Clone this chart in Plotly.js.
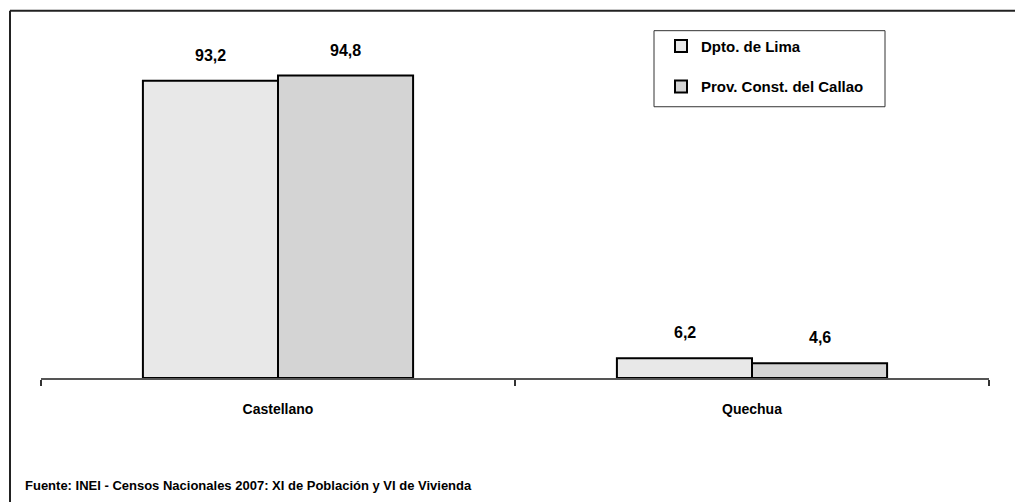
<!DOCTYPE html>
<html><head><meta charset="utf-8">
<script src="https://cdn.plot.ly/plotly-3.0.1.min.js"></script>
<style>body{margin:0;background:#fff}#c{width:1015px;height:502px}</style>
</head><body><div id="c"></div>
<script>
const categories = ["Castellano", "Quechua"];
const limaValues = [93.2, 6.2];
const callaoValues = [94.8, 4.6];
const seriesNames = ["Dpto. de Lima", "Prov. Const. del Callao"];
const sourceNote = "Fuente: INEI - Censos Nacionales 2007: XI de Población y VI de Vivienda";

const FONT = "'Liberation Sans', Arial, sans-serif";
const fmt = v => v.toFixed(1).replace('.', ',');

const traces = [
  {type:'bar', x:categories, y:limaValues, name:'<b>'+seriesNames[0]+'</b>', legendgroup:'a',
   marker:{color:'#e8e8e8', line:{color:'#000', width:2}}, hoverinfo:'none'},
  {type:'bar', x:categories, y:callaoValues, name:'<b>'+seriesNames[1]+'</b>', legendgroup:'b',
   marker:{color:'#d4d4d4', line:{color:'#000', width:2}}, hoverinfo:'none'}
];

const annotations = [];
[limaValues, callaoValues].forEach((vals, si) => {
  vals.forEach((v, i) => {
    annotations.push({x:categories[i], y:v, xref:'x', yref:'y', text:'<b>'+fmt(v)+'</b>',
      showarrow:false, yanchor:'bottom', yshift:15, xshift:(si===0?-67.5:67.5),
      font:{family:FONT, size:16, color:'#000'}});
  });
});
annotations.push({xref:'paper', yref:'paper', x:(23-41)/948, y:(378-485)/318.7, xanchor:'left', yanchor:'middle',
  text:'<b>'+sourceNote+'</b>', showarrow:false, font:{family:FONT, size:13, color:'#000'}});

const px = p => (p-41)/948, py = p => (378-p)/318.7;
const shapes = [
  {type:'line', xref:'paper', yref:'paper', x0:px(10), x1:px(1016), y0:py(11), y1:py(11), line:{color:'#222', width:2}},
  {type:'line', xref:'paper', yref:'paper', x0:px(10), x1:px(10), y0:py(11), y1:py(503), line:{color:'#222', width:2}},
  {type:'rect', xref:'paper', yref:'paper', x0:px(654), x1:px(885), y0:py(31), y1:py(107), line:{color:'#333', width:1}, fillcolor:'rgba(0,0,0,0)'}
];

const layout = {
  width:1015, height:502,
  margin:{l:41, r:26, t:59, b:124},
  paper_bgcolor:'#fff', plot_bgcolor:'#fff',
  barmode:'group', bargap:0.43, bargroupgap:0,
  showlegend:true,
  legend:{x:px(661), y:py(30), xanchor:'left', yanchor:'top', borderwidth:0,
    bgcolor:'rgba(0,0,0,0)', font:{family:FONT, size:15, color:'#000'}, traceorder:'grouped', tracegroupgap:18,
    itemwidth:30},
  xaxis:{type:'category', range:[-0.5,1.5], showline:true, linecolor:'#555', linewidth:1.5,
    ticks:'outside', tickson:'boundaries', ticklen:6, tickcolor:'#333', tickwidth:1.5,
    showgrid:false, zeroline:false, ticklabelstandoff:18,
    tickfont:{family:FONT, size:14, color:'#000'},
    tickvals:categories, ticktext:categories.map(c=>'<b>'+c+'</b>'), fixedrange:true},
  yaxis:{range:[0,100], visible:false, showgrid:false, zeroline:false, fixedrange:true},
  annotations:annotations, shapes:shapes,
  font:{family:FONT}
};

Plotly.newPlot('c', traces, layout, {staticPlot:true});
</script></body></html>
